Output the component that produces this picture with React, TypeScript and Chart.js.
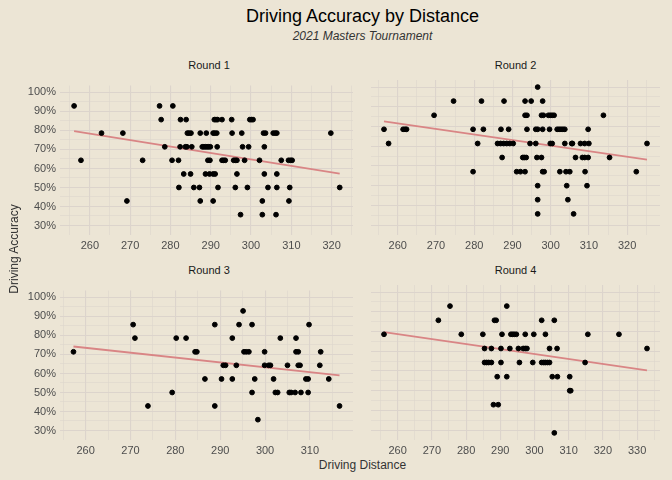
import { useEffect, useRef } from "react";
import { Chart, registerables } from "chart.js";

Chart.register(...registerables);

type Pt = [number, number];

const roundLabels = ["Round 1", "Round 2", "Round 3", "Round 4"];

const round1: Pt[] = [
  [256.1, 92.9], [277.3, 92.9], [280.6, 92.9],
  [277.7, 85.7], [282.5, 85.7], [283.9, 85.7], [290.9, 85.7], [291.3, 85.7], [291.7, 85.7], [292.8, 85.7], [295.2, 85.7], [299.7, 85.7], [300.1, 85.7], [300.5, 85.7],
  [262.9, 78.6], [268.2, 78.6], [284.2, 78.6], [284.6, 78.6], [285.1, 78.6], [287.4, 78.6], [288.9, 78.6], [290.6, 78.6], [291.0, 78.6], [291.5, 78.6], [295.3, 78.6], [297.7, 78.6], [303.1, 78.6], [303.6, 78.6], [305.5, 78.6], [306.0, 78.6], [306.4, 78.6], [319.8, 78.6],
  [278.6, 71.4], [282.4, 71.4], [283.7, 71.4], [284.1, 71.4], [285.3, 71.4], [287.9, 71.4], [288.3, 71.4], [288.7, 71.4], [289.1, 71.4], [289.5, 71.4], [289.9, 71.4], [291.6, 71.4], [297.9, 71.4], [299.4, 71.4], [303.3, 71.4],
  [257.8, 64.3], [273.1, 64.3], [280.4, 64.3], [282.0, 64.3], [289.3, 64.3], [289.8, 64.3], [292.8, 64.3], [293.2, 64.3], [293.6, 64.3], [295.7, 64.3], [296.1, 64.3], [296.5, 64.3], [298.4, 64.3], [302.1, 64.3], [307.5, 64.3], [309.3, 64.3], [309.8, 64.3], [310.2, 64.3],
  [283.3, 57.1], [285.0, 57.1], [288.7, 57.1], [289.7, 57.1], [290.6, 57.1], [291.1, 57.1], [296.5, 57.1], [303.3, 57.1], [306.4, 57.1],
  [282.1, 50], [285.8, 50], [287.2, 50], [291.8, 50], [296.1, 50], [299.1, 50], [304.2, 50], [306.4, 50], [309.6, 50], [322.0, 50],
  [269.2, 42.9], [287.4, 42.9], [290.6, 42.9], [302.8, 42.9], [309.4, 42.9],
  [297.4, 35.7], [302.8, 35.7], [306.2, 35.7],
];

const round2: Pt[] = [
  [296.6, 100],
  [274.6, 92.9], [281.9, 92.9], [287.8, 92.9], [293.3, 92.9], [294.9, 92.9], [297.9, 92.9],
  [269.5, 85.7], [293.3, 85.7], [293.8, 85.7], [297.6, 85.7], [298.1, 85.7], [299.4, 85.7], [299.9, 85.7], [300.4, 85.7], [300.9, 85.7], [313.8, 85.7],
  [256.4, 78.6], [261.4, 78.6], [261.9, 78.6], [262.3, 78.6], [279.7, 78.6], [282.4, 78.6], [287.0, 78.6], [289.0, 78.6], [293.8, 78.6], [296.1, 78.6], [296.6, 78.6], [297.9, 78.6], [299.7, 78.6], [301.7, 78.6], [302.2, 78.6], [302.7, 78.6], [303.2, 78.6], [303.7, 78.6], [309.8, 78.6],
  [257.6, 71.4], [280.9, 71.4], [286.1, 71.4], [286.9, 71.4], [287.7, 71.4], [288.5, 71.4], [289.3, 71.4], [290.2, 71.4], [294.6, 71.4], [296.1, 71.4], [299.9, 71.4], [300.4, 71.4], [303.7, 71.4], [305.5, 71.4], [305.7, 71.4], [307.8, 71.4], [308.9, 71.4], [310.0, 71.4], [325.2, 71.4],
  [287.3, 64.3], [292.7, 64.3], [293.1, 64.3], [293.6, 64.3], [296.4, 64.3], [297.6, 64.3], [306.5, 64.3], [308.3, 64.3], [308.9, 64.3], [309.8, 64.3], [315.4, 64.3],
  [279.7, 57.1], [291.1, 57.1], [292.1, 57.1], [293.3, 57.1], [297.9, 57.1], [298.3, 57.1], [302.4, 57.1], [304.0, 57.1], [305.0, 57.1], [309.0, 57.1], [322.4, 57.1],
  [296.6, 50], [304.2, 50], [309.5, 50],
  [296.6, 42.9], [304.5, 42.9],
  [296.6, 35.7], [306.0, 35.7],
];

const round3: Pt[] = [
  [295.1, 92.9],
  [270.6, 85.7], [288.8, 85.7], [294.2, 85.7], [297.1, 85.7], [309.8, 85.7],
  [271.0, 78.6], [280.2, 78.6], [282.4, 78.6], [292.7, 78.6], [303.4, 78.6], [306.9, 78.6],
  [257.3, 71.4], [284.4, 71.4], [284.8, 71.4], [295.3, 71.4], [295.8, 71.4], [296.4, 71.4], [299.9, 71.4], [306.9, 71.4], [307.4, 71.4], [312.4, 71.4],
  [290.7, 64.3], [291.2, 64.3], [293.6, 64.3], [299.9, 64.3], [300.8, 64.3], [301.2, 64.3], [305.0, 64.3], [307.4, 64.3], [307.8, 64.3], [312.2, 64.3],
  [286.6, 57.1], [290.3, 57.1], [292.7, 57.1], [297.7, 57.1], [301.9, 57.1], [309.1, 57.1], [309.6, 57.1], [314.2, 57.1],
  [279.3, 50], [297.1, 50], [302.3, 50], [302.8, 50], [305.4, 50], [305.8, 50], [306.7, 50], [308.0, 50], [309.6, 50],
  [273.9, 42.9], [288.8, 42.9], [316.6, 42.9],
  [298.4, 35.7],
];

const round4: Pt[] = [
  [275.3, 92.9], [291.9, 92.9],
  [271.9, 85.7], [288.3, 85.7], [288.8, 85.7], [302.1, 85.7], [305.8, 85.7],
  [256.0, 78.6], [278.6, 78.6], [284.9, 78.6], [290.5, 78.6], [293.1, 78.6], [293.6, 78.6], [294.1, 78.6], [294.7, 78.6], [297.3, 78.6], [299.8, 78.6], [303.2, 78.6], [315.6, 78.6], [324.7, 78.6],
  [285.4, 71.4], [287.4, 71.4], [290.2, 71.4], [292.8, 71.4], [295.3, 71.4], [296.7, 71.4], [297.3, 71.4], [297.8, 71.4], [304.4, 71.4], [306.6, 71.4], [332.9, 71.4],
  [285.4, 64.3], [286.0, 64.3], [286.6, 64.3], [287.4, 64.3], [290.2, 64.3], [295.6, 64.3], [299.5, 64.3], [302.1, 64.3], [302.7, 64.3], [303.2, 64.3], [303.8, 64.3], [304.4, 64.3], [314.8, 64.3],
  [289.1, 57.1], [291.9, 57.1], [305.2, 57.1], [306.7, 57.1], [310.3, 57.1],
  [310.3, 50], [310.6, 50],
  [288.0, 42.9], [289.4, 42.9],
  [305.8, 28.6],
];

const roundPoints = [round1, round2, round3, round4];

// fitted trend line endpoints per round
const trendLines: Pt[][] = [
  [[256.1, 79.6], [322.0, 57.3]],
  [[256.4, 82.6], [325.2, 63.2]],
  [[257.3, 74.2], [316.6, 59.0]],
  [[256.0, 79.7], [332.9, 60.3]],
];

const xRanges: Pt[] = [
  [252.6, 325.3],
  [253.0, 328.6],
  [254.3, 319.6],
  [252.2, 336.7],
];

const yMin = 25;
const yMax = 103.6;

const BG = "#ece5d5";
const GRID = "#dcd4cc";
const FONT = "'Liberation Sans', Arial, sans-serif";

// grid every 5 units between the axis limits
function fiveSteps(min: number, max: number) {
  const out: { value: number }[] = [];
  for (let v = Math.ceil(min / 5) * 5; v <= max; v += 5) out.push({ value: v });
  return out;
}

function Panel({ idx, left, top, width, showY }: { idx: number; left: number; top: number; width: number; showY: boolean }) {
  const ref = useRef<HTMLCanvasElement | null>(null);

  useEffect(() => {
    const canvas = ref.current;
    if (!canvas) return;
    const gridWidth = (ctx: any) => (ctx.tick && ctx.tick.value % 10 === 0 ? 1.1 : 0.55);
    const chart = new Chart(canvas, {
      type: "scatter",
      data: {
        datasets: [
          {
            type: "line",
            data: trendLines[idx].map(([x, y]) => ({ x, y })),
            borderColor: "#d98585",
            borderWidth: 1.8,
            pointRadius: 0,
            order: 2,
          },
          {
            data: roundPoints[idx].map(([x, y]) => ({ x, y })),
            backgroundColor: "#000",
            borderColor: "#000",
            pointRadius: 2.4,
            order: 1,
          },
        ],
      },
      options: {
        responsive: false,
        animation: false,
        layout: { padding: 0 },
        plugins: { legend: { display: false }, tooltip: { enabled: false } },
        scales: {
          x: {
            type: "linear",
            min: xRanges[idx][0],
            max: xRanges[idx][1],
            border: { display: false },
            grid: { color: GRID, lineWidth: gridWidth, drawTicks: false },
            afterBuildTicks: (s: any) => {
              s.ticks = fiveSteps(s.min, s.max);
            },
            afterFit: (s: any) => {
              s.height = 17;
            },
            ticks: {
              autoSkip: false,
              maxRotation: 0,
              padding: 4,
              color: "#4d4d4d",
              font: { family: FONT, size: 11 },
              callback: (v: any) => (Number(v) % 10 === 0 ? String(v) : ""),
            },
          },
          y: {
            min: yMin,
            max: yMax,
            border: { display: false },
            grid: { color: GRID, lineWidth: gridWidth, drawTicks: false },
            afterBuildTicks: (s: any) => {
              s.ticks = fiveSteps(s.min, s.max).filter((t) => t.value >= 30);
            },
            afterFit: (s: any) => {
              s.width = showY ? 50 : 0;
            },
            ticks: {
              display: showY,
              autoSkip: false,
              padding: 4,
              color: "#4d4d4d",
              font: { family: FONT, size: 11 },
              callback: (v: any) => (Number(v) % 10 === 0 ? `${v}%` : ""),
            },
          },
        },
      },
    });
    return () => chart.destroy();
  }, [idx, showY]);

  const plotLeft = showY ? left + 50 : left;
  const plotWidth = showY ? width - 50 : width;

  return (
    <>
      <div
        style={{
          position: "absolute",
          left: plotLeft,
          top: top - 16,
          width: plotWidth,
          textAlign: "center",
          fontSize: 11,
          color: "#1a1a1a",
        }}
      >
        {roundLabels[idx]}
      </div>
      <canvas ref={ref} width={width} height={177} style={{ position: "absolute", left, top, width, height: 177 }} />
    </>
  );
}

export default function App() {
  return (
    <div
      style={{
        position: "fixed",
        left: 0,
        top: 0,
        width: 672,
        height: 480,
        background: BG,
        fontFamily: FONT,
        overflow: "hidden",
      }}
    >
      <div style={{ position: "absolute", left: 60, width: 605, top: 6, textAlign: "center", fontSize: 18, color: "#000" }}>
        Driving Accuracy by Distance
      </div>
      <div style={{ position: "absolute", left: 60, width: 605, top: 29, textAlign: "center", fontSize: 12, fontStyle: "italic", color: "#333" }}>
        2021 Masters Tournament
      </div>
      <Panel idx={0} left={10} top={75} width={348} showY />
      <Panel idx={1} left={366} top={75} width={299} showY={false} />
      <Panel idx={2} left={10} top={280} width={348} showY />
      <Panel idx={3} left={366} top={280} width={299} showY={false} />
      <div
        style={{
          position: "absolute",
          left: 14 - 60,
          top: 250 - 8,
          width: 120,
          textAlign: "center",
          fontSize: 12,
          color: "#333",
          transform: "rotate(-90deg)",
        }}
      >
        Driving Accuracy
      </div>
      <div style={{ position: "absolute", left: 60, width: 605, top: 458, textAlign: "center", fontSize: 12, color: "#333" }}>
        Driving Distance
      </div>
    </div>
  );
}
